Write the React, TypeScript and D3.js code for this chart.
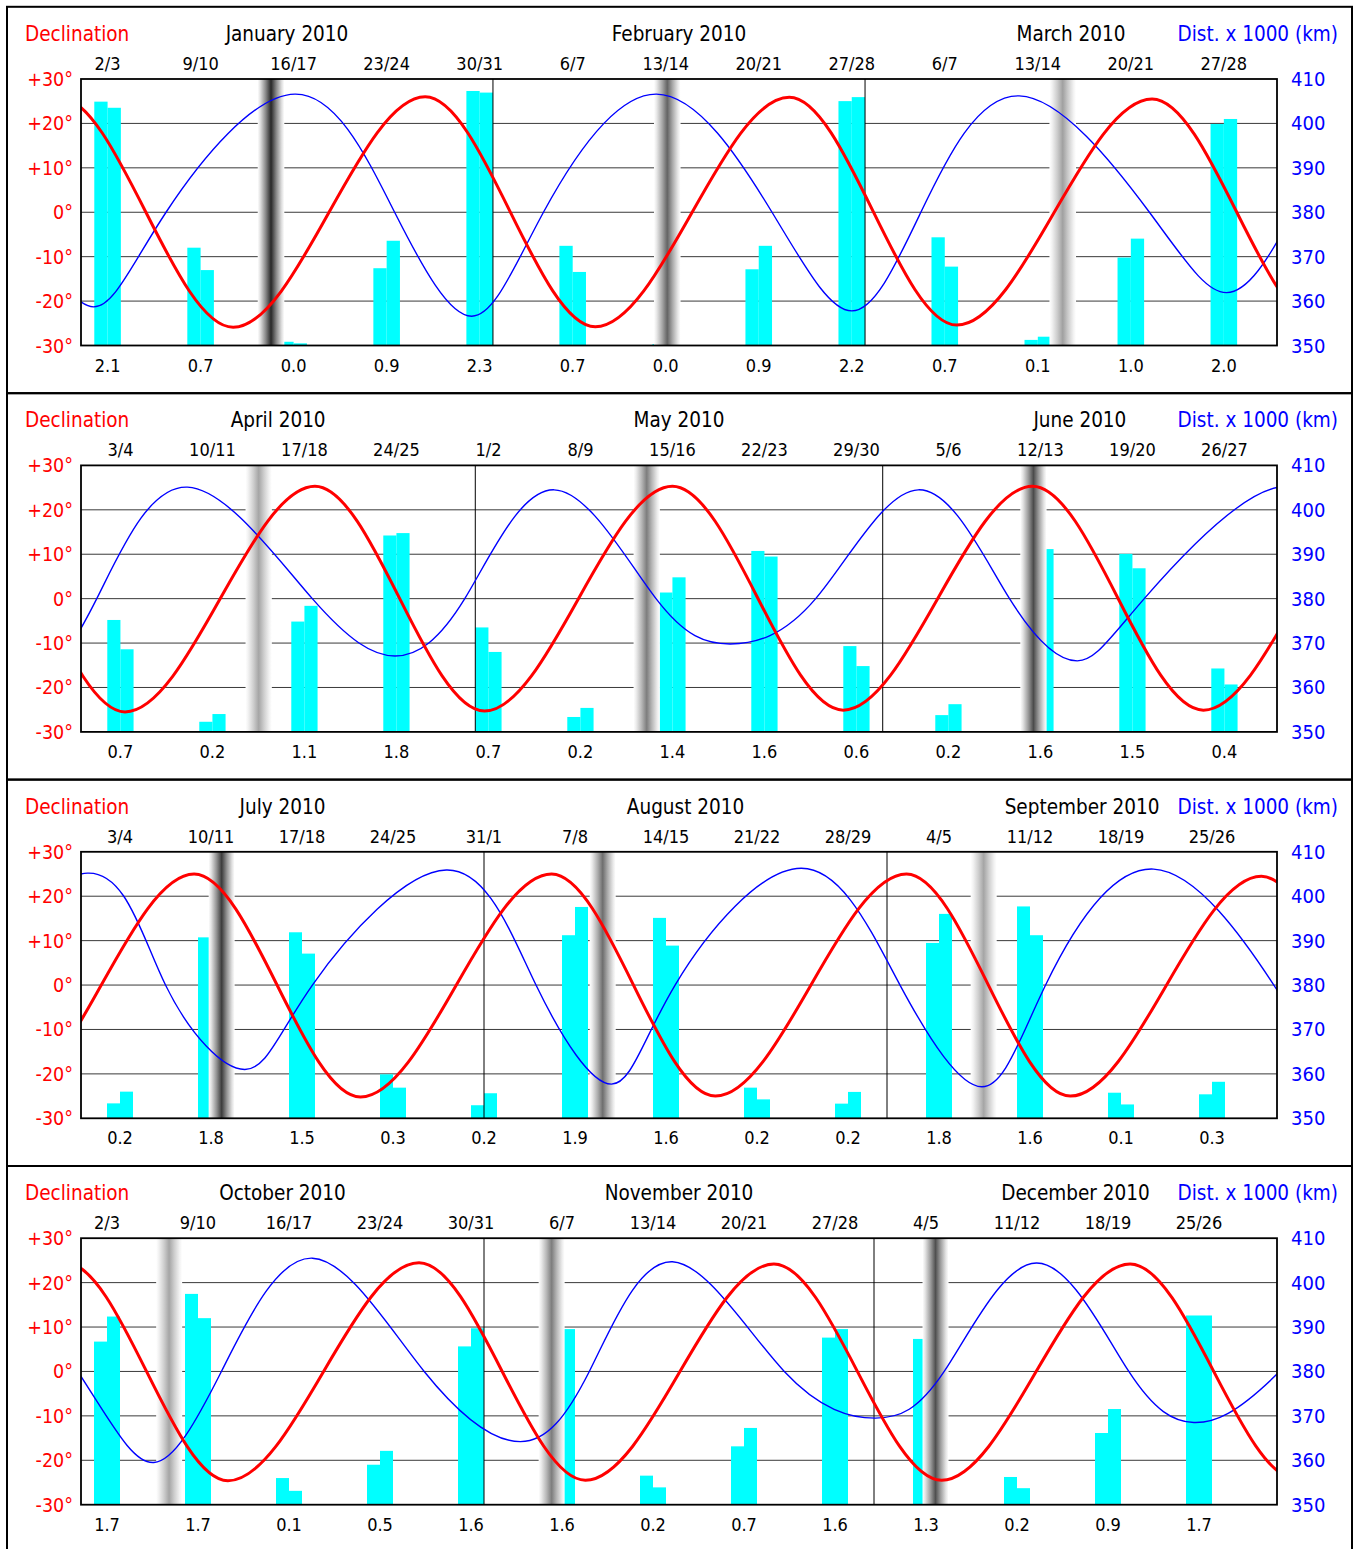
import * as d3 from 'd3';

const WIDTH = 1354;
const HEIGHT = 1549;
const PLOT_L = 81;
const PLOT_R = 1277;
const PLOT_TOP0 = 79;
const PLOT_H = 266.5;
const PANEL_STEP = 386.4;
const FONT = "'DejaVu Sans Condensed', 'DejaVu Sans', 'Liberation Sans', sans-serif";

// quarter boundaries (UTC)
const PANEL_STARTS = ['2010-01-01', '2010-04-01', '2010-07-01', '2010-10-01', '2011-01-01'];

const MONTH_TITLES = [
  ['January 2010', 'February 2010', 'March 2010'],
  ['April 2010', 'May 2010', 'June 2010'],
  ['July 2010', 'August 2010', 'September 2010'],
  ['October 2010', 'November 2010', 'December 2010'],
];

const WEEKEND_LABELS = [
  ['2/3', '9/10', '16/17', '23/24', '30/31', '6/7', '13/14', '20/21', '27/28', '6/7', '13/14', '20/21', '27/28'],
  ['3/4', '10/11', '17/18', '24/25', '1/2', '8/9', '15/16', '22/23', '29/30', '5/6', '12/13', '19/20', '26/27'],
  ['3/4', '10/11', '17/18', '24/25', '31/1', '7/8', '14/15', '21/22', '28/29', '4/5', '11/12', '18/19', '25/26'],
  ['2/3', '9/10', '16/17', '23/24', '30/31', '6/7', '13/14', '20/21', '27/28', '4/5', '11/12', '18/19', '25/26'],
];

const WEEKEND_VALUES = [
  ['2.1', '0.7', '0.0', '0.9', '2.3', '0.7', '0.0', '0.9', '2.2', '0.7', '0.1', '1.0', '2.0'],
  ['0.7', '0.2', '1.1', '1.8', '0.7', '0.2', '1.4', '1.6', '0.6', '0.2', '1.6', '1.5', '0.4'],
  ['0.2', '1.8', '1.5', '0.3', '0.2', '1.9', '1.6', '0.2', '0.2', '1.8', '1.6', '0.1', '0.3'],
  ['1.7', '1.7', '0.1', '0.5', '1.6', '1.6', '0.2', '0.7', '1.6', '1.3', '0.2', '0.9', '1.7'],
];

// bar heights, % of the plot height
const SAT_BARS = [
  [91.5, 36.7, 1.4, 29.0, 95.5, 37.4, 0.5, 28.6, 91.7, 40.6, 2.1, 33.0, 83.1],
  [42.0, 3.8, 41.4, 73.7, 39.2, 5.6, 52.3, 67.9, 32.2, 6.3, 66.0, 66.8, 23.8],
  [5.6, 67.9, 69.8, 16.5, 4.9, 68.7, 75.2, 11.5, 5.5, 65.8, 79.5, 9.6, 9.0],
  [61.2, 79.1, 10.0, 15.0, 59.4, 73.0, 10.9, 21.9, 62.7, 62.2, 10.4, 26.9, 71.0],
];
const SUN_BARS = [
  [89.2, 28.3, 0.8, 39.3, 94.9, 27.6, 0.5, 37.4, 93.2, 29.6, 3.3, 40.1, 85.0],
  [31.0, 6.7, 47.3, 74.6, 30.0, 9.0, 58.0, 65.8, 24.7, 10.4, 68.6, 61.4, 17.8],
  [10.0, 76.7, 61.8, 11.5, 9.4, 79.3, 64.8, 7.1, 9.9, 76.7, 68.7, 5.2, 13.7],
  [70.6, 70.0, 5.2, 20.2, 66.2, 65.9, 6.5, 28.8, 65.9, 60.0, 6.2, 35.9, 71.0],
];

const NEW_MOONS = [
  '2010-01-15T07:11Z', '2010-02-14T02:51Z', '2010-03-15T21:01Z', '2010-04-14T12:29Z',
  '2010-05-14T01:04Z', '2010-06-12T11:15Z', '2010-07-11T19:40Z', '2010-08-10T03:08Z',
  '2010-09-08T10:30Z', '2010-10-07T18:44Z', '2010-11-06T04:52Z', '2010-12-05T17:36Z',
];
// grey level of the band centre
const NEW_MOON_SHADE = [40, 100, 160, 165, 125, 75, 60, 110, 165, 165, 125, 80];

// [day of 2010, degrees]
const DECLINATION: [number, number][] = [
  [-15.3, -25.9], [-1.7, 26.0], [11.45, -25.9], [25.9, 26.0], [38.7, -25.8], [53.3, 25.9],
  [65.9, -25.4], [80.6, 25.5], [93.35, -25.5], [107.8, 25.3], [120.7, -25.3], [135.0, 25.3],
  [148.0, -25.1], [162.4, 25.3], [175.4, -25.1], [189.7, 25.0], [202.5, -25.2], [217.2, 25.0],
  [229.8, -25.0], [244.5, 25.0], [257.1, -25.0], [271.8, 24.5], [284.3, -24.6], [299.0, 24.5],
  [311.8, -24.5], [326.3, 24.2], [339.2, -24.5], [353.7, 24.2], [366.6, -24.4], [380.2, 24.2],
];

// [day of 2010, thousand km] : extremes and 380 crossings
const DISTANCE: [number, number][] = [
  [-28.5, 357.2], [-23, 380], [-14.5, 405.8], [-5, 380], [0.95, 358.7], [6.4, 380],
  [16.1, 406.6], [23.6, 380], [29.4, 356.6], [34.8, 380], [43.3, 406.6], [52.0, 380],
  [58.0, 357.8], [63.2, 380], [70.6, 406.2], [80.4, 380], [86.2, 361.9], [91.2, 380],
  [98.1, 405.1], [107.6, 380], [113.9, 367.1], [119.2, 380], [126.0, 404.5], [133.75, 380],
  [139.4, 369.8], [145.9, 380], [153.7, 404.5], [160.65, 380], [165.8, 366.0], [170.9, 380],
  [181.5, 405.2], [187.5, 380], [193.6, 361.0], [198.8, 380], [209.1, 405.9], [216.0, 380],
  [221.8, 357.7], [226.7, 380], [236.4, 406.3], [244.0, 380], [250.3, 357.1], [255.2, 380],
  [263.5, 406.1], [273, 378.9], [278.6, 359.5], [283.8, 380], [290.8, 405.5], [299.4, 380],
  [306.8, 364.2], [312.1, 380], [318.5, 404.7], [327.1, 380], [334.1, 369.5], [339.4, 380],
  [346.5, 404.4], [353.6, 380], [358.6, 368.5], [365, 379.4], [376, 404.5], [383, 380],
  [389, 367.5],
];

const DECL_TICKS = [30, 20, 10, 0, -10, -20, -30];
const DIST_TICKS = [410, 400, 390, 380, 370, 360, 350];

const YEAR0 = Date.UTC(2010, 0, 1);
const DAY = 864e5;
const dayToDate = (d: number) => new Date(YEAR0 + d * DAY);

function Panel({ idx }: { idx: number }) {
  const top = PLOT_TOP0 + idx * PANEL_STEP;
  const bottom = top + PLOT_H;
  const start = new Date(PANEL_STARTS[idx]);
  const end = new Date(PANEL_STARTS[idx + 1]);

  const x = d3.scaleUtc().domain([start, end]).range([PLOT_L, PLOT_R]);
  const yDec = d3.scaleLinear().domain([-30, 30]).range([bottom, top]);
  const yDist = d3.scaleLinear().domain([350, 410]).range([bottom, top]);
  const yBar = d3.scaleLinear().domain([0, 100]).range([bottom, top]);

  const saturdays = d3.utcSaturday.range(start, end);
  const months = d3.utcMonth.range(start, end);

  const declLine = d3.line<[number, number]>()
    .x((d) => x(dayToDate(d[0])))
    .y((d) => yDec(d[1]))
    .curve(d3.curveMonotoneX);
  const distLine = d3.line<[number, number]>()
    .x((d) => x(dayToDate(d[0])))
    .y((d) => yDist(d[1]))
    .curve(d3.curveNatural);

  const moons = NEW_MOONS.map((s, i) => ({ t: new Date(s), shade: NEW_MOON_SHADE[i], i }))
    .filter((m) => m.t >= start && m.t < end);

  const clipId = `clip${idx}`;
  const titleY = top - 38;

  return (
    <g>
      <defs>
        <clipPath id={clipId}>
          <rect x={PLOT_L} y={top} width={PLOT_R - PLOT_L} height={PLOT_H} />
        </clipPath>
        {moons.map((m) => {
          const c = `rgb(${m.shade},${m.shade},${m.shade})`;
          const mix = d3.interpolateRgb(c, '#ffffff');
          const stops: [number, number][] = [[0, 1], [0.1, 0.85], [0.3, 0.45], [0.5, 0], [0.7, 0.45], [0.9, 0.85], [1, 1]];
          return (
            <linearGradient key={m.i} id={`band${m.i}`} x1="0" x2="1" y1="0" y2="0">
              {stops.map(([o, t]) => <stop key={o} offset={o} stopColor={mix(t)} />)}
            </linearGradient>
          );
        })}
      </defs>

      {/* titles */}
      <text x={25} y={titleY} fill="#ff0000" fontSize={20.5}>Declination</text>
      <text x={1338} y={titleY} fill="#0000ff" fontSize={20.5} textAnchor="end">Dist. x 1000 (km)</text>
      {months.map((m, i) => {
        const next = d3.utcMonth.offset(m, 1);
        return (
          <text key={i} x={(x(m) + x(next)) / 2} y={titleY} fontSize={20.5} textAnchor="middle" fill="#000">
            {MONTH_TITLES[idx][i]}
          </text>
        );
      })}

      {/* grid */}
      {DECL_TICKS.slice(1, -1).map((v) => (
        <line key={v} x1={PLOT_L} x2={PLOT_R} y1={yDec(v)} y2={yDec(v)} stroke="#3a3a3a" strokeWidth={1} />
      ))}

      {/* weekend bars */}
      {saturdays.map((s, i) => {
        const sun = d3.utcDay.offset(s, 1);
        const mon = d3.utcDay.offset(s, 2);
        return (
          <g key={i}>
            <rect x={x(s)} y={yBar(SAT_BARS[idx][i])} width={x(sun) - x(s)} height={bottom - yBar(SAT_BARS[idx][i])} fill="#00ffff" />
            <rect x={x(sun)} y={yBar(SUN_BARS[idx][i])} width={x(mon) - x(sun)} height={bottom - yBar(SUN_BARS[idx][i])} fill="#00ffff" />
            <text x={x(sun)} y={top - 9} fontSize={18} textAnchor="middle" fill="#000">{WEEKEND_LABELS[idx][i]}</text>
            <text x={x(sun)} y={bottom + 26} fontSize={18} textAnchor="middle" fill="#000">{WEEKEND_VALUES[idx][i]}</text>
          </g>
        );
      })}

      {/* new moon bands */}
      <g clipPath={`url(#${clipId})`}>
        {moons.map((m) => {
          const x0 = x(new Date(+m.t - DAY));
          const x1 = x(new Date(+m.t + DAY));
          return <rect key={m.i} x={x0} y={top} width={x1 - x0} height={PLOT_H} fill={`url(#band${m.i})`} />;
        })}
      </g>

      {/* month separators */}
      {months.slice(1).map((m, i) => (
        <line key={i} x1={x(m)} x2={x(m)} y1={top} y2={bottom} stroke="#000" strokeWidth={1} />
      ))}

      {/* curves */}
      <g clipPath={`url(#${clipId})`}>
        <path d={distLine(DISTANCE) ?? ''} fill="none" stroke="#0000ff" strokeWidth={1.4} />
        <path d={declLine(DECLINATION) ?? ''} fill="none" stroke="#ff0000" strokeWidth={3} />
      </g>

      {/* frame */}
      <rect x={PLOT_L} y={top} width={PLOT_R - PLOT_L} height={PLOT_H} fill="none" stroke="#000" strokeWidth={1.8} />

      {/* axes labels */}
      {DECL_TICKS.map((v) => (
        <text key={v} x={73} y={yDec(v) + 7} fontSize={19.5} textAnchor="end" fill="#ff0000">
          {v > 0 ? `+${v}°` : `${v}°`}
        </text>
      ))}
      {DIST_TICKS.map((v) => (
        <text key={v} x={1291} y={yDist(v) + 7} fontSize={20} fill="#0000ff">{v}</text>
      ))}
    </g>
  );
}

export default function App() {
  const panelTops = [0, 1, 2, 3].map((i) => PLOT_TOP0 + i * PANEL_STEP - 72.2);
  return (
    <svg
      width={WIDTH}
      height={HEIGHT}
      viewBox={`0 0 ${WIDTH} ${HEIGHT}`}
      style={{ position: 'absolute', left: 0, top: 0, background: '#fff', fontFamily: FONT }}
    >
      <rect x={0} y={0} width={WIDTH} height={HEIGHT} fill="#fff" />
      {[0, 1, 2, 3].map((i) => <Panel key={i} idx={i} />)}
      {panelTops.map((t, i) => (
        <rect key={i} x={7} y={t} width={1345} height={PANEL_STEP} fill="none" stroke="#000" strokeWidth={2} />
      ))}
    </svg>
  );
}
